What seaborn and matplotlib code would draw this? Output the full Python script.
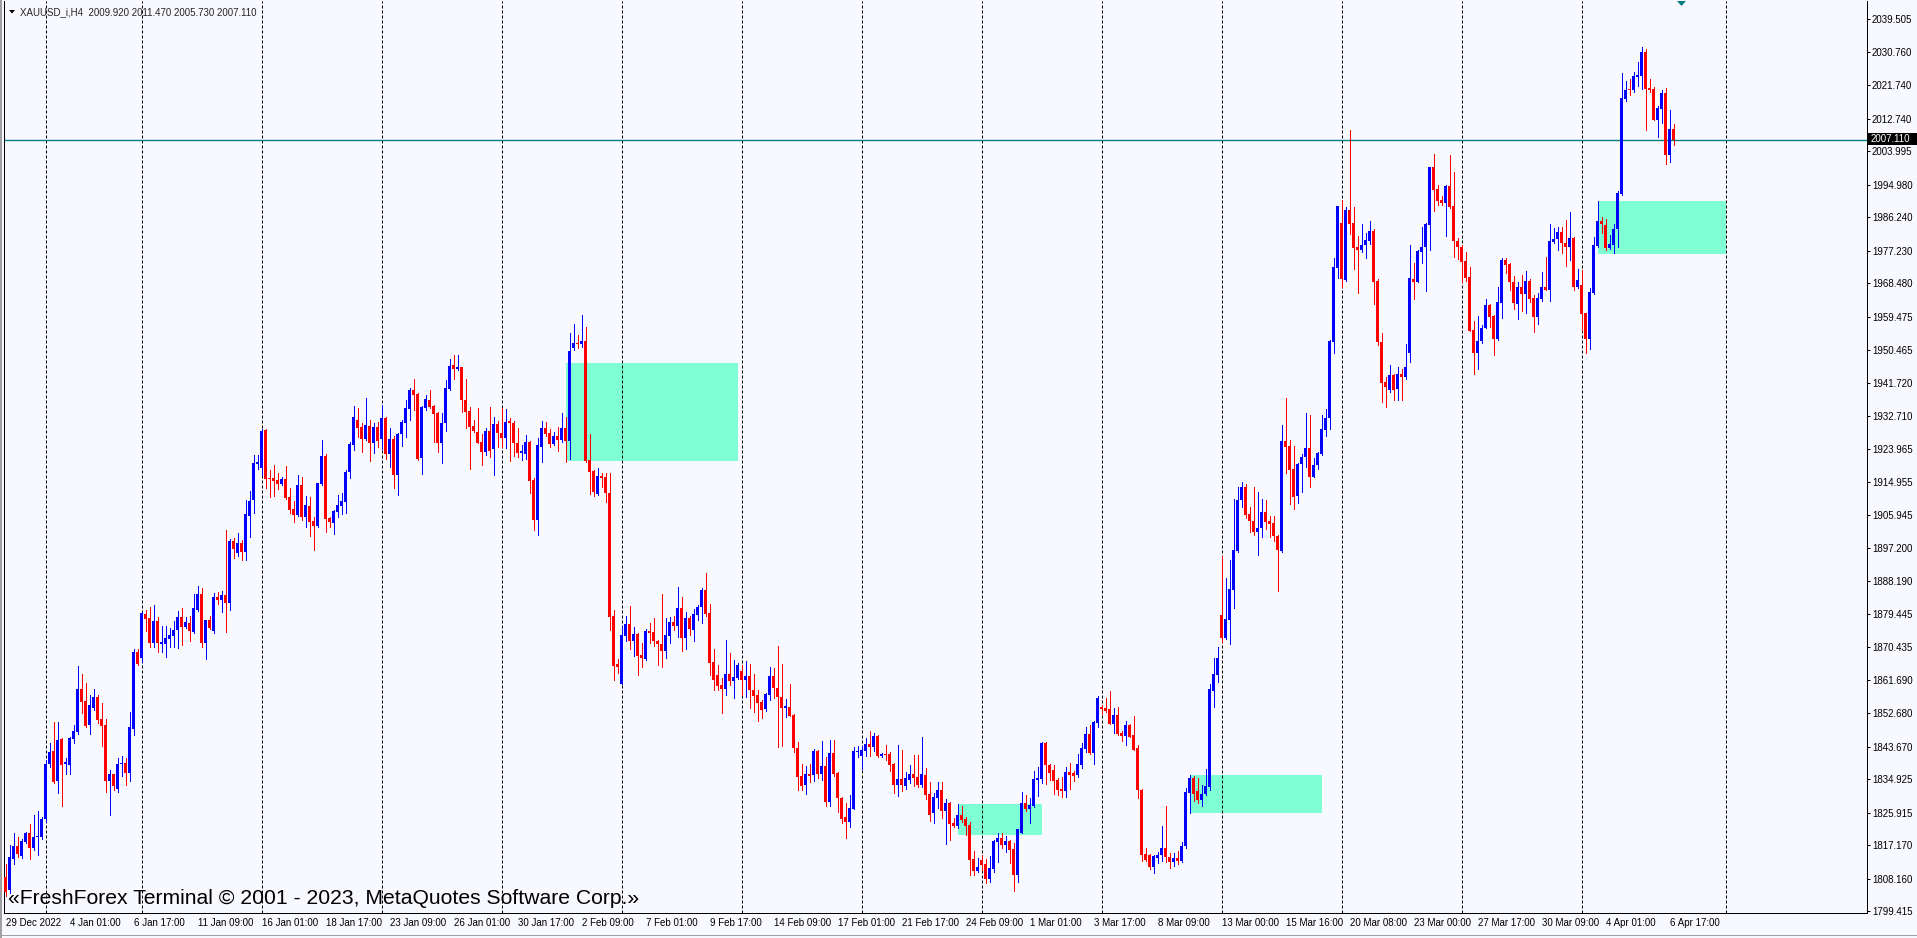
import numpy as np
import pandas as pd
import matplotlib
matplotlib.use("Agg")
import matplotlib.pyplot as plt
from matplotlib import font_manager
from matplotlib.patches import Rectangle, Polygon
import seaborn as sns

# --- data (bar 0 = 29 Dec 2022) ---
opens = [
    1808.5, 1805.0, 1813.5, 1816.9, 1814.2, 1818.0, 1820.3, 1816.4, 1819.4, 1819.4,
    1824.2, 1839.1, 1842.5, 1834.5, 1845.6, 1838.9, 1838.7, 1845.8, 1847.5, 1859.3,
    1855.9, 1849.5, 1854.0, 1857.1, 1851.1, 1849.5, 1834.5, 1836.3, 1832.2, 1839.0,
    1839.3, 1836.6, 1848.4, 1869.2, 1867.6, 1879.4, 1878.2, 1871.6, 1877.5, 1871.3,
    1871.2, 1872.6, 1873.4, 1875.0, 1878.6, 1876.0, 1877.0, 1874.6, 1880.6, 1884.9,
    1871.6, 1877.9, 1874.9, 1883.9, 1883.2, 1884.5, 1882.4, 1899.1, 1895.7, 1898.6,
    1896.1, 1905.9, 1910.1, 1919.9, 1918.8, 1929.0, 1916.1, 1916.1, 1915.5, 1914.4,
    1915.8, 1910.8, 1907.6, 1906.1, 1914.1, 1905.6, 1908.5, 1904.4, 1903.1, 1914.4,
    1922.0, 1905.3, 1904.0, 1906.9, 1908.5, 1909.5, 1917.6, 1924.9, 1931.6, 1929.7,
    1926.4, 1930.0, 1925.4, 1929.7, 1926.6, 1932.1, 1922.5, 1926.5, 1916.7, 1927.9,
    1930.9, 1934.6, 1939.7, 1938.6, 1921.3, 1934.8, 1937.0, 1935.4, 1933.6, 1925.5,
    1930.9, 1940.1, 1946.5, 1945.3, 1946.0, 1937.0, 1934.1, 1930.0, 1928.5, 1925.8,
    1923.1, 1928.7, 1923.8, 1930.6, 1928.2, 1926.7, 1931.3, 1930.8, 1925.4, 1922.7,
    1922.6, 1925.7, 1915.5, 1904.7, 1924.5, 1929.6, 1928.2, 1925.2, 1927.2, 1926.3,
    1929.6, 1926.1, 1950.9, 1952.5, 1952.1, 1952.9, 1921.0, 1917.9, 1911.7, 1916.6,
    1916.3, 1912.1, 1878.9, 1866.0, 1860.5, 1873.5, 1876.7, 1872.2, 1874.0, 1868.4,
    1867.3, 1874.8, 1874.6, 1872.1, 1871.2, 1869.5, 1873.4, 1877.3, 1876.2, 1880.9,
    1873.0, 1878.2, 1875.1, 1879.2, 1881.2, 1885.9, 1879.6, 1866.5, 1863.0, 1860.3,
    1859.2, 1863.2, 1861.4, 1862.1, 1864.0, 1861.6, 1862.8, 1858.9, 1857.6, 1855.8,
    1853.8, 1857.6, 1862.7, 1859.6, 1857.1, 1854.0, 1854.4, 1852.2, 1843.4, 1835.8,
    1833.3, 1836.4, 1836.0, 1842.6, 1836.3, 1838.5, 1828.9, 1841.9, 1836.7, 1829.9,
    1824.8, 1823.5, 1827.0, 1842.3, 1841.2, 1842.6, 1844.5, 1843.7, 1846.6, 1841.2,
    1841.6, 1841.7, 1839.0, 1833.4, 1835.0, 1833.1, 1834.7, 1836.3, 1835.6, 1833.4,
    1836.0, 1830.9, 1825.7, 1829.8, 1832.0, 1826.4, 1828.6, 1823.2, 1822.3, 1825.3,
    1824.3, 1822.6, 1813.3, 1810.3, 1813.1, 1812.1, 1808.0, 1810.6, 1818.1, 1819.0,
    1817.2, 1818.3, 1816.1, 1809.1, 1820.5, 1828.4, 1826.9, 1827.7, 1834.7, 1835.0,
    1844.7, 1838.7, 1837.4, 1834.7, 1832.4, 1831.8, 1836.9, 1836.5, 1836.0, 1838.7,
    1843.0, 1847.1, 1842.0, 1850.1, 1854.4, 1854.0, 1853.8, 1849.9, 1852.2, 1847.4,
    1846.6, 1849.5, 1846.8, 1843.2, 1832.0, 1814.7, 1814.5, 1811.2, 1813.8, 1814.5,
    1816.5, 1814.0, 1812.5, 1813.8, 1813.0, 1817.0, 1831.1, 1835.2, 1831.7, 1829.3,
    1830.9, 1832.7, 1858.7, 1863.0, 1879.1, 1872.9, 1877.9, 1885.9, 1896.4, 1910.0,
    1913.7, 1906.3, 1904.4, 1901.4, 1902.6, 1906.9, 1904.4, 1903.8, 1900.4, 1896.4,
    1926.1, 1924.6, 1918.4, 1911.2, 1919.9, 1921.8, 1924.0, 1916.4, 1919.6, 1922.6,
    1928.9, 1932.3, 1952.7, 1972.5, 1984.8, 1969.4, 1988.2, 1984.8, 1978.3, 1977.4,
    1978.9, 1979.9, 1982.6, 1969.1, 1952.7, 1941.9, 1939.8, 1943.8, 1939.9, 1944.0,
    1943.3, 1949.6, 1969.5, 1968.9, 1976.9, 1978.1, 1984.1, 1999.7, 1993.8, 1990.9,
    1990.2, 1994.6, 1989.3, 1979.9, 1978.3, 1974.5, 1970.2, 1955.9, 1949.6, 1953.0,
    1956.3, 1962.6, 1959.6, 1953.4, 1963.1, 1974.7, 1973.6, 1968.9, 1962.9, 1967.4,
    1965.6, 1969.1, 1964.4, 1959.3, 1964.2, 1967.5, 1966.6, 1979.7, 1980.4, 1982.4,
    1979.4, 1978.3, 1980.7, 1967.5, 1968.0, 1960.5, 1953.4, 1965.9, 1978.5, 1985.2,
    1984.1, 1978.0, 1978.9, 1983.0, 1992.5, 2018.0, 2020.8, 2020.5, 2024.1, 2024.3,
    2030.7, 2021.0, 2020.7, 2012.4, 2015.4, 2019.8, 2003.0, 2009.92,
]
highs = [
    1812.2, 1817.1, 1820.3, 1819.4, 1818.7, 1820.8, 1822.8, 1825.4, 1826.3, 1824.8,
    1840.0, 1844.7, 1850.2, 1850.2, 1845.9, 1840.5, 1846.3, 1849.5, 1865.4, 1863.2,
    1860.7, 1857.5, 1859.3, 1857.5, 1855.3, 1851.1, 1837.5, 1836.3, 1840.5, 1841.1,
    1840.5, 1853.0, 1869.9, 1870.1, 1880.0, 1880.6, 1881.3, 1881.8, 1878.7, 1876.1,
    1876.1, 1875.5, 1877.6, 1880.2, 1881.1, 1878.7, 1878.8, 1884.9, 1886.9, 1886.3,
    1877.9, 1878.8, 1885.1, 1885.4, 1885.7, 1902.0, 1899.5, 1899.9, 1901.3, 1899.3,
    1910.1, 1912.5, 1922.2, 1922.1, 1929.1, 1929.1, 1918.2, 1919.5, 1917.5, 1916.2,
    1919.3, 1913.2, 1909.7, 1916.8, 1916.2, 1911.2, 1911.0, 1905.6, 1914.8, 1926.3,
    1922.4, 1905.6, 1907.4, 1911.4, 1912.1, 1918.2, 1925.7, 1935.5, 1934.8, 1930.8,
    1937.5, 1931.6, 1930.8, 1931.0, 1935.7, 1932.5, 1929.4, 1927.2, 1928.2, 1931.6,
    1936.9, 1940.2, 1942.6, 1938.8, 1935.4, 1938.4, 1939.7, 1935.7, 1933.9, 1933.4,
    1942.4, 1948.2, 1949.1, 1949.1, 1946.0, 1942.7, 1935.1, 1931.6, 1935.0, 1927.9,
    1929.6, 1935.2, 1932.4, 1931.5, 1934.8, 1934.6, 1932.1, 1931.5, 1929.4, 1924.9,
    1927.6, 1925.9, 1915.9, 1926.7, 1931.5, 1931.0, 1929.1, 1928.5, 1929.7, 1933.6,
    1932.5, 1955.0, 1957.5, 1954.6, 1959.9, 1956.8, 1927.9, 1918.2, 1918.6, 1917.5,
    1917.3, 1917.3, 1880.5, 1867.3, 1876.2, 1878.9, 1881.6, 1875.8, 1874.2, 1871.7,
    1875.3, 1876.9, 1878.2, 1872.4, 1884.7, 1878.2, 1878.7, 1878.9, 1886.6, 1883.9,
    1880.0, 1878.9, 1880.7, 1881.8, 1886.5, 1890.5, 1882.1, 1869.9, 1865.7, 1862.1,
    1872.4, 1868.8, 1867.0, 1866.1, 1865.7, 1866.7, 1865.9, 1863.2, 1858.8, 1856.2,
    1858.2, 1865.2, 1864.8, 1870.8, 1865.9, 1856.4, 1860.5, 1852.5, 1845.0, 1839.0,
    1838.5, 1839.0, 1843.0, 1842.8, 1845.3, 1841.0, 1845.5, 1845.5, 1836.9, 1830.0,
    1828.6, 1830.7, 1843.5, 1843.8, 1843.8, 1846.1, 1847.9, 1847.4, 1846.9, 1842.0,
    1844.1, 1842.1, 1839.2, 1844.1, 1842.8, 1836.9, 1838.7, 1841.4, 1841.4, 1846.2,
    1837.8, 1834.2, 1831.3, 1834.2, 1834.2, 1829.5, 1828.9, 1824.4, 1828.2, 1827.7,
    1824.8, 1823.5, 1815.6, 1813.6, 1814.5, 1813.3, 1814.1, 1818.5, 1820.3, 1820.3,
    1819.6, 1818.5, 1817.6, 1821.4, 1831.5, 1830.7, 1829.8, 1837.2, 1838.3, 1845.0,
    1845.0, 1839.0, 1838.7, 1835.1, 1835.4, 1838.3, 1839.2, 1837.2, 1841.7, 1844.7,
    1849.1, 1849.5, 1850.6, 1857.3, 1854.9, 1856.7, 1858.7, 1854.0, 1854.4, 1848.0,
    1850.6, 1849.9, 1851.9, 1844.1, 1832.2, 1816.3, 1814.8, 1814.5, 1815.4, 1822.2,
    1827.8, 1815.0, 1815.0, 1815.5, 1818.0, 1832.5, 1836.1, 1835.8, 1835.2, 1833.3,
    1837.7, 1860.6, 1867.6, 1870.5, 1894.9, 1889.0, 1893.9, 1910.3, 1913.5, 1915.0,
    1914.3, 1908.2, 1913.7, 1912.2, 1910.3, 1910.0, 1905.7, 1905.7, 1900.7, 1930.4,
    1937.5, 1926.3, 1924.6, 1920.1, 1922.6, 1933.5, 1932.9, 1921.4, 1923.0, 1932.9,
    1934.5, 1953.3, 1975.3, 1989.4, 1991.0, 1988.9, 2009.8, 1988.9, 1981.1, 1984.4,
    1982.0, 1985.2, 1983.2, 1969.6, 1955.1, 1943.1, 1946.5, 1944.0, 1946.0, 1945.5,
    1952.1, 1978.8, 1973.8, 1977.4, 1983.5, 1984.8, 1999.9, 2003.4, 1994.9, 1992.0,
    1994.9, 2003.0, 1998.5, 1980.6, 1978.8, 1977.0, 1972.9, 1958.4, 1959.7, 1957.2,
    1964.2, 1963.0, 1959.9, 1967.5, 1975.2, 1975.4, 1973.8, 1970.4, 1968.9, 1970.7,
    1971.8, 1969.5, 1965.3, 1965.8, 1971.6, 1975.6, 1984.4, 1983.3, 1983.5, 1983.5,
    1985.5, 1987.7, 1981.0, 1972.3, 1972.0, 1960.5, 1967.1, 1981.0, 1990.7, 1986.2,
    1985.7, 1981.5, 1984.4, 1993.4, 2025.2, 2022.8, 2023.6, 2025.4, 2028.1, 2032.2,
    2031.6, 2023.4, 2021.4, 2016.2, 2020.5, 2021.0, 2015.1, 2011.47,
]
lows = [
    1803.5, 1804.3, 1812.2, 1814.0, 1813.8, 1817.8, 1813.5, 1815.8, 1814.5, 1818.7,
    1823.4, 1838.1, 1833.9, 1831.1, 1827.7, 1836.4, 1836.3, 1844.7, 1847.2, 1852.8,
    1849.0, 1847.1, 1853.5, 1850.1, 1843.9, 1831.5, 1825.3, 1831.9, 1831.5, 1835.7,
    1833.3, 1834.5, 1846.8, 1865.6, 1866.5, 1874.9, 1870.6, 1870.6, 1869.2, 1869.2,
    1867.9, 1870.6, 1870.6, 1870.3, 1871.0, 1875.5, 1872.1, 1874.4, 1880.3, 1870.6,
    1867.2, 1875.4, 1874.4, 1882.1, 1880.0, 1874.6, 1880.4, 1894.4, 1895.0, 1893.9,
    1893.9, 1900.0, 1906.7, 1918.4, 1916.8, 1913.4, 1911.0, 1911.2, 1913.0, 1914.1,
    1910.3, 1906.7, 1904.1, 1905.9, 1904.7, 1902.8, 1900.4, 1896.6, 1902.8, 1914.1,
    1901.5, 1902.9, 1900.9, 1905.6, 1906.3, 1906.7, 1915.9, 1923.6, 1927.0, 1923.1,
    1926.3, 1920.7, 1922.8, 1924.5, 1923.8, 1921.1, 1918.9, 1913.2, 1911.5, 1924.6,
    1927.0, 1931.7, 1934.2, 1920.9, 1917.1, 1934.4, 1934.8, 1925.8, 1922.9, 1920.0,
    1928.8, 1939.7, 1942.6, 1945.1, 1933.9, 1929.4, 1918.5, 1928.5, 1925.4, 1919.5,
    1922.2, 1921.8, 1916.7, 1924.5, 1924.5, 1924.2, 1920.7, 1922.0, 1921.8, 1920.9,
    1921.1, 1912.1, 1902.0, 1900.7, 1920.4, 1927.2, 1924.3, 1924.9, 1923.3, 1925.6,
    1920.4, 1921.1, 1950.5, 1951.0, 1951.4, 1920.4, 1911.7, 1911.2, 1911.5, 1913.7,
    1909.6, 1875.1, 1861.5, 1863.6, 1860.5, 1872.2, 1870.1, 1868.2, 1863.0, 1865.2,
    1867.0, 1871.5, 1870.8, 1865.6, 1865.2, 1867.5, 1871.5, 1875.1, 1873.3, 1869.3,
    1870.0, 1873.7, 1872.0, 1877.8, 1876.9, 1878.9, 1863.0, 1858.9, 1858.9, 1852.8,
    1857.6, 1860.3, 1856.7, 1861.8, 1857.6, 1857.1, 1854.2, 1853.1, 1850.7, 1851.3,
    1853.4, 1856.2, 1856.7, 1843.5, 1843.8, 1851.6, 1851.8, 1842.3, 1832.0, 1832.0,
    1830.9, 1834.2, 1834.5, 1835.1, 1834.7, 1827.7, 1827.7, 1835.8, 1826.2, 1823.2,
    1819.2, 1822.1, 1826.8, 1841.0, 1837.6, 1841.2, 1841.2, 1842.6, 1840.8, 1841.0,
    1840.1, 1837.2, 1831.3, 1830.5, 1831.8, 1832.2, 1833.8, 1833.2, 1832.7, 1832.9,
    1829.5, 1823.7, 1823.0, 1827.1, 1824.4, 1817.5, 1818.5, 1822.1, 1821.9, 1823.5,
    1819.9, 1809.1, 1809.1, 1810.0, 1810.5, 1806.9, 1807.3, 1810.0, 1812.7, 1816.3,
    1815.4, 1812.4, 1804.9, 1807.3, 1820.5, 1826.4, 1823.2, 1827.5, 1830.4, 1834.0,
    1833.6, 1834.7, 1830.9, 1830.6, 1830.0, 1830.0, 1832.2, 1834.5, 1835.6, 1837.8,
    1842.3, 1841.7, 1839.0, 1849.1, 1852.5, 1853.1, 1849.8, 1847.4, 1846.8, 1845.3,
    1844.1, 1846.2, 1842.8, 1829.9, 1813.0, 1812.9, 1810.7, 1809.6, 1812.3, 1813.0,
    1812.5, 1811.0, 1811.5, 1812.0, 1812.5, 1816.5, 1825.7, 1829.0, 1828.4, 1827.8,
    1830.6, 1832.1, 1854.4, 1861.2, 1871.9, 1872.7, 1871.4, 1880.9, 1896.2, 1908.2,
    1905.3, 1901.6, 1900.7, 1895.4, 1900.1, 1902.3, 1900.1, 1899.1, 1885.5, 1896.0,
    1917.4, 1909.0, 1907.6, 1909.4, 1912.2, 1918.9, 1913.5, 1916.2, 1918.4, 1922.1,
    1927.3, 1929.2, 1949.6, 1970.0, 1967.5, 1969.1, 1981.7, 1972.4, 1965.9, 1977.0,
    1975.3, 1979.0, 1962.9, 1951.8, 1936.5, 1935.2, 1939.1, 1937.0, 1937.0, 1937.0,
    1942.6, 1947.3, 1964.2, 1968.7, 1973.8, 1966.5, 1977.4, 1988.0, 1989.5, 1989.5,
    1981.2, 1988.6, 1975.6, 1974.9, 1968.9, 1969.1, 1955.7, 1944.0, 1945.5, 1952.5,
    1956.3, 1956.6, 1949.1, 1953.2, 1959.0, 1971.1, 1966.6, 1961.4, 1958.8, 1961.1,
    1960.5, 1963.5, 1955.4, 1957.5, 1963.8, 1966.6, 1963.8, 1979.4, 1977.4, 1976.7,
    1973.1, 1974.7, 1966.6, 1967.1, 1955.9, 1949.8, 1950.7, 1965.7, 1978.3, 1981.9,
    1977.4, 1977.6, 1976.7, 1978.3, 1992.2, 2017.6, 2019.2, 2020.1, 2021.6, 2020.7,
    2009.7, 2020.1, 2012.3, 2007.9, 2011.7, 2000.6, 2001.2, 2005.73,
]
closes = [
    1804.5, 1814.0, 1816.9, 1814.7, 1818.3, 1820.5, 1816.4, 1819.4, 1819.6, 1824.2,
    1839.1, 1842.3, 1834.2, 1845.4, 1838.7, 1839.5, 1846.1, 1847.9, 1859.3, 1855.8,
    1849.2, 1854.9, 1857.1, 1850.8, 1849.2, 1834.5, 1836.3, 1833.0, 1839.0, 1839.3,
    1836.6, 1849.0, 1869.2, 1865.8, 1879.6, 1878.1, 1871.6, 1877.5, 1871.6, 1871.9,
    1872.8, 1873.7, 1875.2, 1878.6, 1876.0, 1877.3, 1874.9, 1880.9, 1884.9, 1871.6,
    1877.9, 1875.7, 1883.9, 1883.2, 1884.5, 1882.4, 1899.1, 1897.0, 1898.6, 1896.1,
    1906.3, 1909.8, 1920.0, 1920.3, 1928.8, 1915.8, 1915.8, 1915.3, 1914.4, 1915.8,
    1910.6, 1907.4, 1906.1, 1914.1, 1905.6, 1908.8, 1904.2, 1903.1, 1914.6, 1921.9,
    1905.0, 1904.1, 1907.1, 1908.8, 1909.8, 1917.7, 1925.2, 1932.4, 1929.5, 1926.4,
    1930.2, 1925.4, 1929.7, 1926.1, 1932.1, 1922.5, 1926.5, 1916.7, 1928.0, 1931.1,
    1934.8, 1939.7, 1938.4, 1921.1, 1935.2, 1937.2, 1935.2, 1933.3, 1925.5, 1930.9,
    1940.3, 1946.2, 1945.3, 1945.8, 1936.9, 1933.9, 1929.8, 1928.7, 1925.5, 1923.1,
    1928.7, 1923.4, 1930.6, 1928.1, 1926.7, 1931.0, 1930.8, 1925.4, 1922.8, 1923.3,
    1925.7, 1915.3, 1904.7, 1924.9, 1929.6, 1927.9, 1925.2, 1927.2, 1926.3, 1929.6,
    1926.1, 1950.3, 1952.5, 1952.1, 1952.9, 1920.6, 1917.7, 1912.3, 1916.6, 1916.1,
    1911.9, 1878.7, 1865.5, 1865.1, 1873.7, 1876.7, 1872.2, 1874.0, 1868.2, 1867.6,
    1874.8, 1874.4, 1872.0, 1871.2, 1869.5, 1873.7, 1877.3, 1876.2, 1880.9, 1873.0,
    1878.2, 1875.3, 1879.4, 1881.2, 1885.9, 1879.4, 1866.3, 1861.6, 1860.0, 1859.2,
    1863.2, 1861.4, 1862.5, 1865.7, 1861.6, 1862.8, 1858.9, 1857.3, 1855.5, 1853.5,
    1857.8, 1862.7, 1859.4, 1857.0, 1854.0, 1854.6, 1852.0, 1843.2, 1835.6, 1833.2,
    1836.3, 1835.8, 1842.6, 1836.3, 1838.5, 1828.9, 1841.9, 1836.3, 1829.8, 1824.2,
    1823.5, 1827.2, 1842.6, 1842.6, 1842.8, 1844.5, 1843.7, 1846.6, 1841.2, 1841.6,
    1841.4, 1838.8, 1833.4, 1835.0, 1833.4, 1835.1, 1836.3, 1835.1, 1833.4, 1836.3,
    1830.7, 1825.3, 1830.0, 1832.0, 1826.4, 1828.6, 1822.8, 1822.4, 1825.3, 1823.9,
    1822.4, 1813.1, 1810.3, 1811.2, 1811.8, 1808.0, 1810.9, 1818.3, 1819.0, 1817.2,
    1818.3, 1815.8, 1809.1, 1821.4, 1828.4, 1826.8, 1828.0, 1835.0, 1835.1, 1844.7,
    1838.6, 1836.7, 1834.5, 1832.0, 1831.8, 1836.9, 1836.0, 1835.8, 1839.0, 1843.2,
    1847.1, 1841.9, 1850.2, 1856.9, 1853.8, 1853.4, 1849.9, 1852.2, 1847.1, 1846.6,
    1849.5, 1846.4, 1842.9, 1832.0, 1814.5, 1813.1, 1811.2, 1814.2, 1814.5, 1816.5,
    1814.0, 1812.5, 1813.8, 1813.0, 1817.0, 1831.5, 1835.2, 1830.9, 1829.3, 1830.9,
    1833.1, 1859.1, 1863.3, 1867.6, 1872.9, 1878.1, 1886.1, 1896.7, 1910.0, 1913.7,
    1906.1, 1904.4, 1901.4, 1902.6, 1906.9, 1904.1, 1903.6, 1900.4, 1896.7, 1926.1,
    1924.5, 1918.1, 1911.0, 1919.9, 1921.8, 1924.0, 1916.4, 1919.5, 1922.8, 1929.1,
    1932.3, 1952.9, 1972.8, 1989.2, 1969.6, 1988.3, 1984.4, 1978.0, 1977.4, 1978.9,
    1980.1, 1982.6, 1968.8, 1952.7, 1941.6, 1940.6, 1943.7, 1939.7, 1944.0, 1943.3,
    1945.8, 1969.8, 1968.9, 1977.1, 1978.3, 1984.4, 1999.9, 1993.6, 1990.7, 1990.2,
    1994.6, 1988.9, 1979.9, 1978.3, 1974.3, 1970.0, 1955.7, 1949.6, 1953.0, 1956.3,
    1962.6, 1959.3, 1953.4, 1963.5, 1974.7, 1973.4, 1968.9, 1963.1, 1967.4, 1965.6,
    1969.1, 1964.1, 1959.3, 1964.4, 1967.5, 1966.6, 1979.8, 1980.4, 1982.4, 1979.2,
    1978.3, 1980.7, 1967.5, 1969.3, 1960.2, 1953.4, 1966.0, 1978.8, 1985.2, 1984.3,
    1978.0, 1979.0, 1983.1, 1992.7, 2018.3, 2020.5, 2020.5, 2024.3, 2024.6, 2030.7,
    2020.7, 2020.5, 2012.4, 2015.6, 2019.8, 2003.0, 2010.0, 2007.11,
]

date_labels = [
    "29 Dec 2022", "4 Jan 01:00", "6 Jan 17:00", "11 Jan 09:00", "16 Jan 01:00",
    "18 Jan 17:00", "23 Jan 09:00", "26 Jan 01:00", "30 Jan 17:00", "2 Feb 09:00",
    "7 Feb 01:00", "9 Feb 17:00", "14 Feb 09:00", "17 Feb 01:00", "21 Feb 17:00",
    "24 Feb 09:00", "1 Mar 01:00", "3 Mar 17:00", "8 Mar 09:00", "13 Mar 00:00",
    "15 Mar 16:00", "20 Mar 08:00", "23 Mar 00:00", "27 Mar 17:00", "30 Mar 09:00",
    "4 Apr 01:00", "6 Apr 17:00",
]
date_label_bars = [16 * k for k in range(len(date_labels))]

price_ticks = [
    2039.505, 2030.760, 2021.740, 2012.740, 2003.995, 1994.980, 1986.240, 1977.230,
    1968.480, 1959.475, 1950.465, 1941.720, 1932.710, 1923.965, 1914.955, 1905.945,
    1897.200, 1888.190, 1879.445, 1870.435, 1861.690, 1852.680, 1843.670, 1834.925,
    1825.915, 1817.170, 1808.160, 1799.415,
]

week_starts = [10, 34, 64, 94, 124, 154, 184, 214, 244, 274, 304, 334, 364, 394, 430]

# supply/demand rectangles
zone_left = [140, 238, 296, 398]
zone_right = [183, 259, 329, 430]
zone_low = [1920.6, 1819.9, 1825.9, 1976.3]
zone_high = [1947.1, 1828.2, 1836.1, 1990.6]

last_price = 2007.11
title = "XAUUSD_i,H4  2009.920 2011.470 2005.730 2007.110"
copyright_text = "\u00abFreshForex Terminal \u00a9 2001 - 2023, MetaQuotes Software Corp.\u00bb"

# --- styling ---
BG = "#F8F8FF"
BULL = "#0000FF"
BEAR = "#FF0000"
ZONE = "#7FFFD4"
TEAL = "#008080"

W, H = 1917, 938
X0, X1 = 4, 1867      # plot frame in pixels
Y0, Y1 = 1, 913
BAR_PX = 4.0
PRICE_PX = 0.2693     # price units per pixel
PX = 0.72             # one pixel in points at dpi 100

sns.set_theme(style="white", rc={"axes.facecolor": BG, "figure.facecolor": BG})
installed = {f.name for f in font_manager.fontManager.ttflist}
if "Liberation Sans Narrow" in installed:
    small_font, small_size = "Liberation Sans Narrow", 8.6
else:
    small_font, small_size = "Liberation Sans", 7.0
plt.rcParams["font.family"] = ["Liberation Sans", "DejaVu Sans"]


def fpx(x, y):
    # pixel position -> figure fraction
    return x / W, 1 - y / H


df = pd.DataFrame({"open": opens, "high": highs, "low": lows, "close": closes})
df["bar"] = np.arange(len(df))
df["color"] = np.where(df["close"] > df["open"], BULL, BEAR)
df["body_lo"] = df[["open", "close"]].min(axis=1)
df["body_h"] = (df["open"] - df["close"]).abs().clip(lower=PRICE_PX)

fig = plt.figure(figsize=(W / 100, H / 100), dpi=100)
ax = fig.add_axes([X0 / W, 1 - Y1 / H, (X1 - X0) / W, (Y1 - Y0) / H])

xmin = -(5.5 - X0) / BAR_PX
ax.set_xlim(xmin, xmin + (X1 - X0) / BAR_PX)
ymin = 1799.415 - (Y1 - 911) * PRICE_PX
ax.set_ylim(ymin, ymin + (Y1 - Y0) * PRICE_PX)

for l, r, lo, hi in zip(zone_left, zone_right, zone_low, zone_high):
    ax.add_patch(Rectangle((l, lo), r - l, hi - lo, facecolor=ZONE, edgecolor="none", zorder=1))

for b in week_starts:
    ax.axvline(b, color="black", lw=PX, ls=(0, (3, 2)), zorder=2)

ax.axhline(last_price, color=TEAL, lw=1.0, zorder=2.5)

ax.vlines(df["bar"], df["low"], df["high"], colors=df["color"], lw=PX,
          zorder=3, antialiased=False)
ax.bar(df["bar"], df["body_h"], bottom=df["body_lo"], width=0.75,
       color=df["color"], linewidth=0, zorder=4, antialiased=False)

# axes, ticks
ax.yaxis.tick_right()
ax.set_yticks(price_ticks)
ax.set_yticklabels([f"{v:.3f}" for v in price_ticks], fontsize=small_size, family=small_font)
ax.set_xticks(date_label_bars)
ax.set_xticklabels(date_labels, fontsize=small_size, family=small_font, ha="left")
ax.tick_params(axis="both", direction="out", length=3 * PX, width=PX, color="black",
               labelcolor="black")
ax.tick_params(axis="y", pad=2 * PX)
ax.tick_params(axis="x", pad=1.5 * PX)
for side in ["left", "bottom", "right"]:
    ax.spines[side].set_color("black")
    ax.spines[side].set_linewidth(PX)
ax.spines["top"].set_visible(False)
ax.grid(False)

# price tag for the last price
fig.add_artist(Rectangle(fpx(1868, 145.5), 49 / W, 12 / H, transform=fig.transFigure,
                         facecolor="black", edgecolor="none", zorder=5))
fig.text(*fpx(1871, 139.5), "2007.110", color="white", fontsize=small_size,
         family=small_font, va="center", ha="left", zorder=6)

# header and watermark
fig.add_artist(Polygon([fpx(9, 10), fpx(15, 10), fpx(12, 13.5)], closed=True,
                       transform=fig.transFigure, facecolor="black", edgecolor="none"))
fig.text(*fpx(20, 12), title, fontsize=small_size, family=small_font, va="center", ha="left")
fig.text(*fpx(8, 904), copyright_text, fontsize=15.2, family=["Liberation Sans", "DejaVu Sans"],
         va="baseline", ha="left", color="black")
fig.add_artist(Polygon([fpx(1677, 1), fpx(1686, 1), fpx(1681.5, 6)], closed=True,
                       transform=fig.transFigure, facecolor=TEAL, edgecolor="none"))

# window edges
fig.add_artist(Rectangle((0, 0), 2 / W, 1, transform=fig.transFigure,
                         facecolor="#A0A0A0", edgecolor="none"))
fig.add_artist(plt.Line2D([0, 1], [1 - 935 / H, 1 - 935 / H], transform=fig.transFigure,
                          color="#A0A0A0", lw=PX))

fig.savefig("out.png", dpi=100, facecolor=BG)
